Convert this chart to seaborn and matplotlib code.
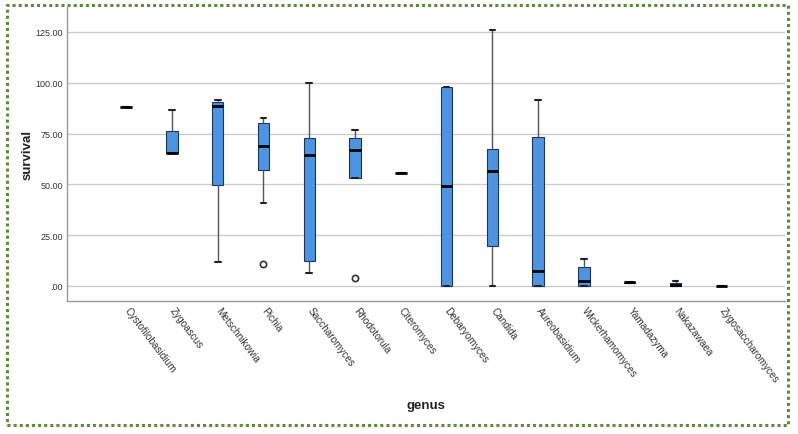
import matplotlib
matplotlib.use("Agg")
import matplotlib.pyplot as plt
from matplotlib.patches import Rectangle
from matplotlib.transforms import ScaledTranslation
import seaborn as sns
import pandas as pd

sns.set_style("white")
plt.rcParams['font.family'] = ['Liberation Sans', 'DejaVu Sans']

# estimated observations per genus, read off the boxes
genus = ["Cystofilobasidium", "Zygoascus", "Metschnikowia", "Pichia", "Saccharomyces",
         "Rhodotorula", "Citeromyces", "Debaryomyces", "Candida", "Aureobasidium",
         "Wickerhamomyces", "Yamadazyma", "Nakazawaea", "Zygosaccharomyces"]
cystofilobasidium = [88.0]
zygoascus = [65.3, 65.3, 65.5, 76.1, 86.8]
metschnikowia = [12.0, 49.9, 88.7, 90.4, 91.5]
pichia = [10.8, 40.8, 57.2, 63.0, 69.0, 75.0, 80.2, 81.5, 82.7]
saccharomyces = [6.5, 12.3, 64.3, 73.0, 100.0]
rhodotorula = [3.8, 53.3, 53.3, 60.0, 66.8, 70.0, 72.7, 75.0, 76.9]
citeromyces = [55.6]
debaryomyces = [0.0, 0.0, 49.1, 98.1, 98.1]
candida = [0.0, 19.8, 56.7, 67.4, 126.1]
aureobasidium = [0.0, 0.0, 7.4, 73.3, 91.7]
wickerhamomyces = [0.0, 0.0, 2.6, 9.2, 13.3]
yamadazyma = [1.4, 1.4, 1.8, 2.1, 2.1]
nakazawaea = [0.0, 0.0, 0.5, 1.4, 2.3]
zygosaccharomyces = [0.1]

groups = [cystofilobasidium, zygoascus, metschnikowia, pichia, saccharomyces,
          rhodotorula, citeromyces, debaryomyces, candida, aureobasidium,
          wickerhamomyces, yamadazyma, nakazawaea, zygosaccharomyces]
rows = []
for g, vals in zip(genus, groups):
    for v in vals:
        rows.append({"genus": g, "survival": v})
df = pd.DataFrame(rows)

fig = plt.figure(figsize=(7.98, 4.35), dpi=100)
ax = fig.add_axes([67 / 798, 1 - 302 / 435, (785 - 67) / 798, (302 - 8) / 435])

sns.boxplot(data=df, x="genus", y="survival", order=genus, ax=ax,
            width=0.25, color="#4f93e3", saturation=1, whis=1.5,
            linecolor="#1f3552", linewidth=0.8,
            medianprops=dict(color="black", linewidth=2),
            whiskerprops=dict(color="#555555", linewidth=1),
            capprops=dict(color="#222222", linewidth=1.5),
            flierprops=dict(marker="o", markersize=4.5, markerfacecolor="none",
                            markeredgecolor="#333333", markeredgewidth=1.2))

ax.set_xlim(-1.29, 13 + 1.39)
ax.set_ylim(-7.4, 137.3)
ax.set_yticks([0, 25, 50, 75, 100, 125])
ax.set_yticklabels([".00", "25.00", "50.00", "75.00", "100.00", "125.00"],
                   fontsize=6.5, color="#333333")
ax.yaxis.grid(True, color="#cccccc", linewidth=1)
ax.set_axisbelow(True)
for s in ["top", "right"]:
    ax.spines[s].set_visible(False)
for s in ["left", "bottom"]:
    ax.spines[s].set_color("#999999")
    ax.spines[s].set_linewidth(1)
ax.tick_params(axis="y", length=0, pad=3)
ax.tick_params(axis="x", length=0, pad=3)
ax.set_xticks(range(len(genus)))
ax.set_xticklabels(genus, rotation=-53, ha="left", va="top",
                   rotation_mode="anchor", fontsize=7.2, color="#333333")
shift = ScaledTranslation(4 / 100, 0, fig.dpi_scale_trans)
for lbl in ax.get_xticklabels():
    lbl.set_transform(lbl.get_transform() + shift)
ax.set_xlabel("genus", fontsize=9.5, fontweight="bold", color="#222222")
ax.xaxis.set_label_coords(0.5, -0.333)
ax.set_ylabel("survival", fontsize=9.5, fontweight="bold", color="#222222")
ax.yaxis.set_label_coords(-0.047, 0.5)

# dotted green frame
fig.patches.append(Rectangle((7 / 798, 1 - 426 / 435), (788 - 7) / 798, (426 - 6) / 435,
                             transform=fig.transFigure, fill=False,
                             edgecolor="#5e8a3c", linewidth=2.2, linestyle=(0, (1, 1))))

fig.savefig("out.png", dpi=100, facecolor="white")
